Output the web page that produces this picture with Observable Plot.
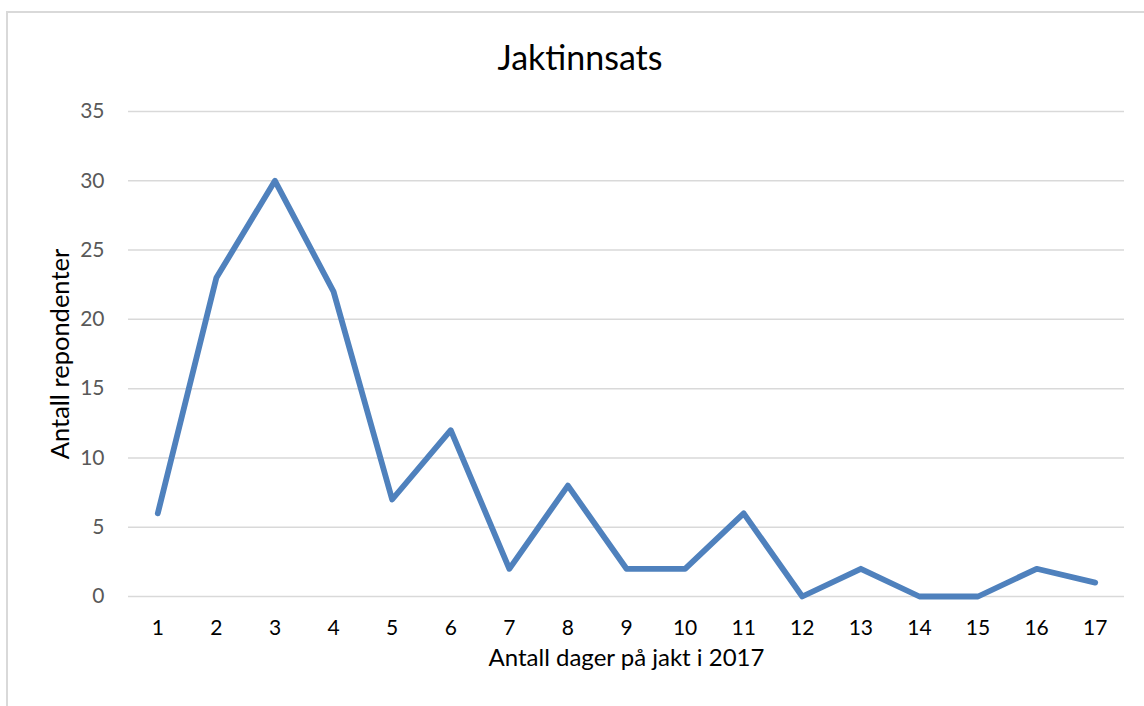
<!DOCTYPE html>
<html>
<head>
<meta charset="utf-8">
<script src="https://cdn.jsdelivr.net/npm/d3@7"></script>
<script src="https://cdn.jsdelivr.net/npm/@observablehq/plot@0.6"></script>
<style>
  html, body { margin: 0; padding: 0; background: #fff; overflow: hidden; width: 1144px; height: 706px; }
  #frame { position: absolute; left: 6px; top: 11px; width: 1140px; height: 720px; border: 2px solid #d9d9d9; box-sizing: border-box; }
  #title { position: absolute; left: 0; width: 1160px; top: 36px; text-align: center; font-family: Lato, "Open Sans", sans-serif; font-size: 34px; color: #000; }
  #chart { position: absolute; left: 0; top: 0; }
</style>
</head>
<body>
<div id="frame"></div>
<div id="title">Jaktinnsats</div>
<div id="chart"></div>
<script>
const days = [1, 2, 3, 4, 5, 6, 7, 8, 9, 10, 11, 12, 13, 14, 15, 16, 17];
const respondents = [6, 23, 30, 22, 7, 12, 2, 8, 2, 2, 6, 0, 2, 0, 0, 2, 1];
const yTicks = [0, 5, 10, 15, 20, 25, 30, 35];
const xLabel = "Antall dager på jakt i 2017";
const yLabel = "Antall repondenter";

const data = days.map((d, i) => ({day: d, value: respondents[i]}));

const chart = Plot.plot({
  width: 1144,
  height: 706,
  marginLeft: 128,
  marginRight: 20,
  marginTop: 111,
  marginBottom: 110,
  style: {fontFamily: "Lato, 'Open Sans', sans-serif", background: "transparent"},
  x: {type: "point", domain: days, padding: 0.5, round: false},
  y: {domain: [0, 35], ticks: yTicks},
  marks: [
    Plot.gridY(yTicks, {stroke: "#d9d9d9", strokeWidth: 1.5, strokeOpacity: 1}),
    Plot.axisY(yTicks, {tickSize: 0, tickPadding: 24, fontSize: 21, fill: "#595959", label: null}),
    Plot.text([yLabel], {frameAnchor: "left", textAnchor: "middle", rotate: -90, dx: -68, fontSize: 25.5, fill: "#000"}),
    Plot.axisX(days, {tickSize: 0, tickPadding: 24, fontSize: 21, fill: "#000", label: null}),
    Plot.text([xLabel], {frameAnchor: "bottom", textAnchor: "middle", dy: 69, fontSize: 24, fill: "#000"}),
    Plot.line(data, {x: "day", y: "value", stroke: "#4f81bd", strokeWidth: 5.8, strokeLinejoin: "round", strokeLinecap: "round"})
  ]
});
document.getElementById("chart").appendChild(chart);
</script>
</body>
</html>
